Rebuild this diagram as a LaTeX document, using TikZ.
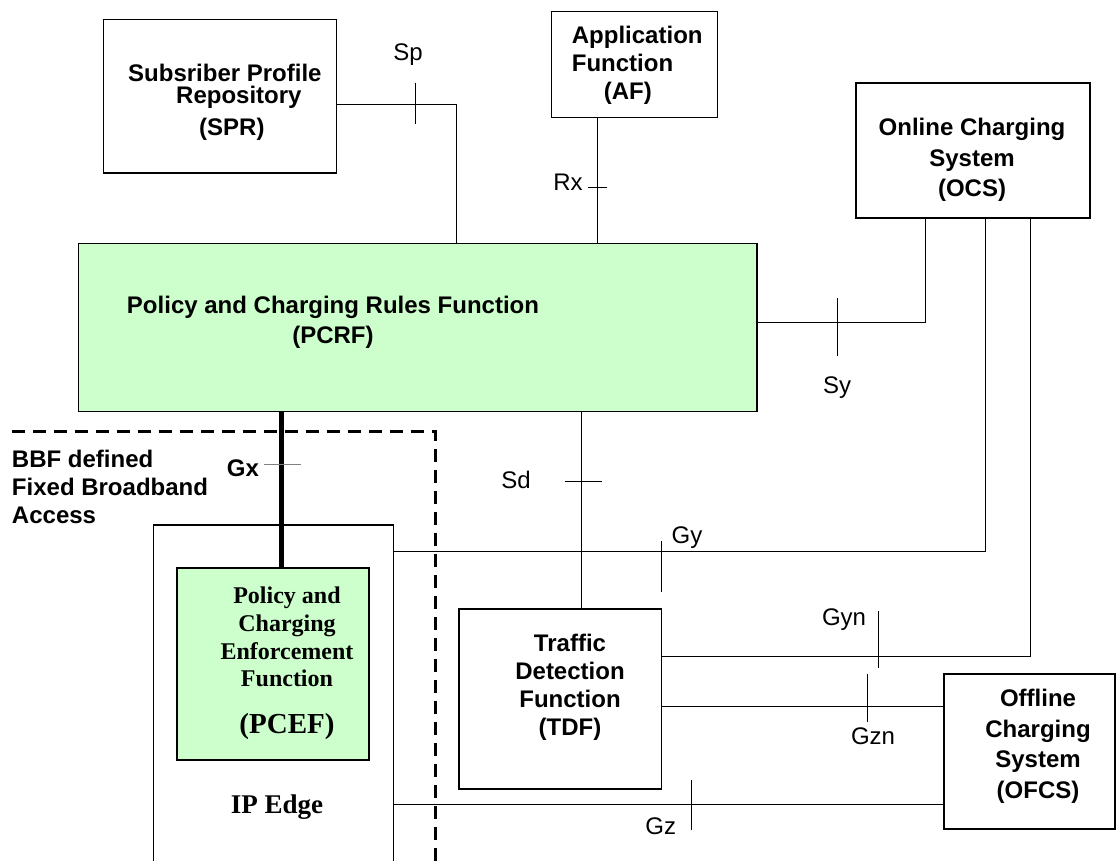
\documentclass[tikz,border=0pt]{standalone}
\usepackage{fontspec}
\setmainfont{Liberation Sans}
\newfontfamily\timesfont{Liberation Serif}
\definecolor{pcrfgreen}{HTML}{CCFFCC}

\begin{document}
\begin{tikzpicture}[x=1pt,y=-1pt]
\tikzstyle{box}=[draw, line width=1.2pt, inner sep=0pt]
\tikzstyle{txt}=[align=center, inner sep=0pt, font=\bfseries\fontsize{24}{28}\selectfont]
\tikzstyle{lbl}=[inner sep=0pt, font=\fontsize{24}{28}\selectfont]
\tikzstyle{conn}=[line width=1pt]
\tikzstyle{tickmark}=[line width=1pt]
\useasboundingbox (0,0) rectangle (1117,860);
\clip (0,0) rectangle (1117,860);

\node[box, minimum width=232.8pt, minimum height=153.7pt] (spr) at (220,96.2) {};
\node[txt, align=left, anchor=west, font=\bfseries\fontsize{24}{26}\selectfont] (sprtxt) at (128,102)
  {Subsriber Profile\\[-4pt]\hspace*{48pt}Repository\\[6pt]\hspace*{71pt}(SPR)};
\node[box, minimum width=166pt, minimum height=105.6pt] (af) at (634.8,64.5) {};
\node[txt, align=left, anchor=west] (aftxt) at (571.7,65.1) {Application\\Function\\\hspace*{32pt}(AF)};
\node[box, minimum width=234pt, minimum height=135pt] (ocs) at (973,150.5) {};
\node[txt, font=\bfseries\fontsize{24}{30.5}\selectfont] (ocstxt) at (972,159.8)
  {Online Charging\\System\\(OCS)};
\node[box, fill=pcrfgreen, minimum width=678.4pt, minimum height=168pt] (pcrf) at (417.8,327.7) {};
\node[txt, font=\bfseries\fontsize{24}{30}\selectfont] (pcrftxt) at (333,322.25)
  {Policy and Charging Rules Function\\(PCRF)};
\node[box, minimum width=240pt, minimum height=355pt] (ipedge) at (273.6,702.5) {};
\node[inner sep=0pt, font=\timesfont\bfseries\fontsize{27}{30}\selectfont] (ipedgetxt) at (277,807.5) {IP Edge};
\node[box, fill=pcrfgreen, minimum width=192pt, minimum height=192pt] (pcef) at (273,664) {};
\node[txt, font=\timesfont\bfseries\fontsize{24}{27.7}\selectfont] (pceftxt) at (287,663.5)
  {Policy and\\Charging\\Enforcement\\Function\\[19pt]{\fontsize{29}{32}\selectfont(PCEF)}};
\node[box, minimum width=202.5pt, minimum height=180pt] (tdf) at (560.25,699) {};
\node[txt] (tdftxt) at (570,687.25) {Traffic\\Detection\\Function\\(TDF)};
\node[box, minimum width=171pt, minimum height=155pt] (ofcs) at (1029.5,751.5) {};
\node[txt, font=\bfseries\fontsize{24}{30.7}\selectfont] (ofcstxt) at (1038,746.25)
  {Offline\\Charging\\System\\(OFCS)};
\node[txt, align=left, anchor=west] (bbf) at (11.8,486.5) {BBF defined\\Fixed Broadband\\Access};

\node[lbl] (sp) at (408,55) {Sp};
\node[lbl] (rx) at (568,182.5) {Rx};
\node[lbl] (sy) at (837,387.5) {Sy};
\node[lbl] (sd) at (516,480) {Sd};
\node[lbl, font=\bfseries\fontsize{24}{28}\selectfont] (gx) at (243,468) {Gx};
\node[lbl] (gy) at (687,537.5) {Gy};
\node[lbl] (gyn) at (844,620) {Gyn};
\node[lbl] (gzn) at (873,736) {Gzn};
\node[lbl] (gz) at (660.7,826.7) {Gz};

\coordinate (spbend) at (456.4,104.3);
\coordinate (rxx) at (597,0);
\coordinate (sybend) at (925,322.7);
\coordinate (gxx) at (281,0);
\coordinate (sdx) at (581.6,0);
\coordinate (gybend) at (985.7,551);
\coordinate (gynbend) at (1030,656);
\coordinate (gzny) at (0,706.7);
\coordinate (gzy) at (0,804);

\draw[conn] (spr.east |- spbend) -- (spbend) -- (spbend |- pcrf.north);
\draw[conn] (af.south -| rxx) -- (pcrf.north -| rxx);
\draw[conn] (pcrf.east |- sybend) -- (sybend) -- (sybend |- ocs.south);
\draw[line width=5pt] (pcrf.south -| gxx) -- (pcef.north -| gxx);
\draw[conn] (pcrf.south -| sdx) -- (tdf.north -| sdx);
\draw[conn] (ipedge.east |- gybend) -- (gybend) -- (gybend |- ocs.south);
\draw[conn] (tdf.east |- gynbend) -- (gynbend) -- (gynbend |- ocs.south);
\draw[conn] (tdf.east |- gzny) -- (ofcs.west |- gzny);
\draw[conn] (ipedge.east |- gzy) -- (ofcs.west |- gzy);

\foreach \x/\a/\b in {415/82.7/124.3, 837/298/356, 661.5/541/591.7, 878/611/668, 867/674/722, 691/780/830}
  \draw[tickmark] (\x,\a) -- (\x,\b);
\draw[tickmark] (588,187.3) -- (607,187.3);
\draw[tickmark] (564.7,481.7) -- (601.8,481.7);
\draw[tickmark, gray] (263.6,464) -- (300.7,464);

\draw[line width=3pt, dash pattern=on 13pt off 8pt] (11.8,431) -- (435,431) -- (435,870);
\end{tikzpicture}
\end{document}
